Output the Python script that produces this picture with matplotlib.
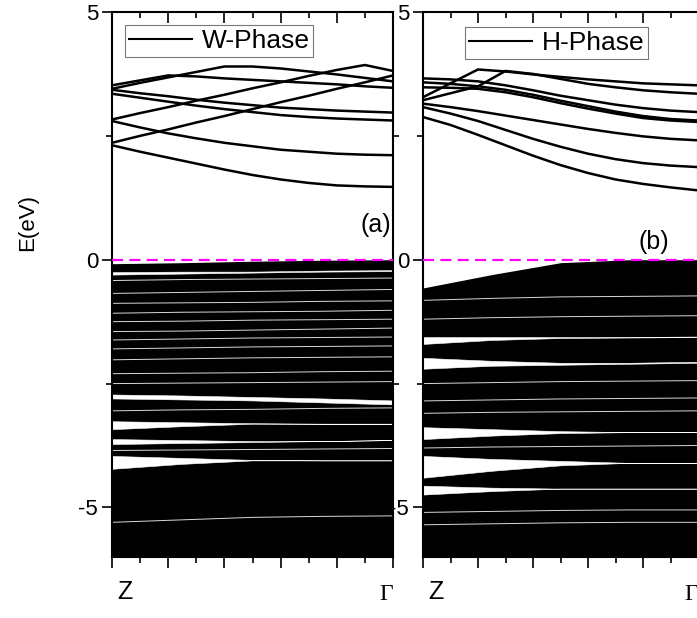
import matplotlib.pyplot as plt
from matplotlib.lines import Line2D
from matplotlib.ticker import MultipleLocator

plt.rcParams['font.family'] = ['Liberation Sans', 'DejaVu Sans']

# k-path fraction from Z (0) to Gamma (1)
k_cb = [0.0, 0.1, 0.2, 0.3, 0.4, 0.5, 0.6, 0.7, 0.8, 0.9, 1.0]
k_vb = [0.0, 0.25, 0.5, 0.75, 1.0]

# W-phase conduction bands (eV)
w_cb = [
    [2.31, 2.18, 2.06, 1.94, 1.82, 1.71, 1.62, 1.55, 1.50, 1.48, 1.47],
    [2.80, 2.67, 2.55, 2.45, 2.36, 2.29, 2.22, 2.18, 2.14, 2.12, 2.11],
    [2.36, 2.50, 2.63, 2.77, 2.90, 3.04, 3.18, 3.31, 3.45, 3.58, 3.72],
    [2.83, 2.96, 3.08, 3.21, 3.33, 3.46, 3.58, 3.71, 3.83, 3.93, 3.81],
    [3.52, 3.62, 3.72, 3.70, 3.66, 3.63, 3.60, 3.57, 3.54, 3.50, 3.47],
    [3.45, 3.57, 3.68, 3.79, 3.90, 3.90, 3.86, 3.80, 3.74, 3.67, 3.60],
    [3.43, 3.36, 3.30, 3.23, 3.17, 3.12, 3.07, 3.04, 3.01, 2.99, 2.97],
    [3.35, 3.27, 3.19, 3.11, 3.04, 2.98, 2.92, 2.88, 2.85, 2.83, 2.81],
]

# H-phase conduction bands (eV)
h_cb = [
    [2.88, 2.72, 2.52, 2.31, 2.10, 1.91, 1.75, 1.62, 1.53, 1.46, 1.40],
    [3.08, 2.95, 2.80, 2.62, 2.44, 2.28, 2.14, 2.03, 1.95, 1.90, 1.87],
    [3.15, 3.08, 3.00, 2.91, 2.82, 2.73, 2.64, 2.56, 2.49, 2.44, 2.41],
    [3.58, 3.55, 3.50, 3.43, 3.33, 3.21, 3.10, 2.99, 2.90, 2.84, 2.81],
    [3.48, 3.47, 3.45, 3.38, 3.28, 3.16, 3.05, 2.95, 2.86, 2.81, 2.78],
    [3.66, 3.64, 3.60, 3.52, 3.42, 3.31, 3.22, 3.13, 3.06, 3.01, 2.98],
    [3.28, 3.56, 3.84, 3.80, 3.74, 3.69, 3.64, 3.60, 3.56, 3.54, 3.52],
    [3.22, 3.36, 3.50, 3.81, 3.75, 3.65, 3.55, 3.48, 3.42, 3.38, 3.35],
]

# valence manifold: top edge, white gaps (lower, upper), thin white streaks
w_vb_top = [-0.08, -0.06, -0.03, -0.01, 0.0]
w_vb_gaps = [
    ([-2.80, -2.82, -2.84, -2.88, -2.92], [-2.72, -2.74, -2.77, -2.80, -2.84]),
    ([-3.42, -3.36, -3.31, -3.31, -3.31], [-3.26, -3.28, -3.30, -3.31, -3.31]),
    ([-3.72, -3.70, -3.68, -3.66, -3.64], [-3.62, -3.64, -3.66, -3.66, -3.64]),
    ([-4.22, -4.12, -4.05, -4.05, -4.05], [-3.96, -4.00, -4.04, -4.05, -4.05]),
    ([-0.30, -0.28, -0.26, -0.24, -0.23], [-0.25, -0.24, -0.24, -0.22, -0.21]),
]
w_vb_lines = [
    [-0.42, -0.40, -0.39, -0.38, -0.37],
    [-0.68, -0.66, -0.64, -0.62, -0.60],
    [-0.88, -0.87, -0.86, -0.84, -0.83],
    [-1.08, -1.06, -1.05, -1.04, -1.02],
    [-1.25, -1.24, -1.22, -1.21, -1.20],
    [-1.45, -1.44, -1.42, -1.40, -1.38],
    [-1.62, -1.60, -1.58, -1.57, -1.56],
    [-1.80, -1.78, -1.76, -1.75, -1.74],
    [-2.02, -2.00, -1.98, -1.97, -1.96],
    [-2.30, -2.29, -2.28, -2.26, -2.25],
    [-2.50, -2.49, -2.48, -2.47, -2.46],
    [-3.05, -3.03, -3.02, -3.00, -2.99],
    [-3.85, -3.84, -3.83, -3.82, -3.81],
    [-5.30, -5.25, -5.20, -5.18, -5.17],
]

h_vb_top = [-0.57, -0.30, -0.06, 0.0, 0.0]
h_vb_gaps = [
    ([-1.70, -1.62, -1.58, -1.57, -1.56], [-1.56, -1.56, -1.56, -1.56, -1.55]),
    ([-2.20, -2.14, -2.12, -2.10, -2.08], [-1.98, -2.04, -2.08, -2.08, -2.06]),
    ([-3.62, -3.55, -3.50, -3.48, -3.48], [-3.38, -3.42, -3.46, -3.48, -3.48]),
    ([-4.40, -4.26, -4.15, -4.10, -4.10], [-3.96, -4.02, -4.06, -4.10, -4.10]),
    ([-4.74, -4.67, -4.62, -4.62, -4.62], [-4.56, -4.60, -4.62, -4.62, -4.62]),
]
h_vb_lines = [
    [-0.82, -0.78, -0.75, -0.74, -0.73],
    [-1.20, -1.17, -1.15, -1.14, -1.13],
    [-2.50, -2.48, -2.46, -2.45, -2.44],
    [-2.85, -2.83, -2.81, -2.80, -2.79],
    [-3.10, -3.08, -3.07, -3.06, -3.05],
    [-3.80, -3.78, -3.77, -3.76, -3.75],
    [-5.10, -5.08, -5.06, -5.05, -5.05],
    [-5.35, -5.33, -5.31, -5.30, -5.30],
]

panels = [
    ("W-Phase", "(a)", w_cb, w_vb_top, w_vb_gaps, w_vb_lines),
    ("H-Phase", "(b)", h_cb, h_vb_top, h_vb_gaps, h_vb_lines),
]

fig = plt.figure(figsize=(6.97, 6.18), dpi=100)
ax_a = fig.add_axes([112 / 697, 61 / 618, 281 / 697, 545 / 618])
ax_b = fig.add_axes([423 / 697, 61 / 618, 275 / 697, 545 / 618])
legend_pos = [(0.046, 0.976), (0.153, 0.972)]
tag_pos = [(0.94, 0.71), (0.84, 0.35)]

for i, (ax, (name, tag, cb, vb_top, vb_gaps, vb_lines)) in enumerate(zip([ax_a, ax_b], panels)):
    for band in cb:
        ax.plot(k_cb, band, color="black", lw=1.8)

    ax.fill_between(k_vb, vb_top, -6.0, color="black", lw=0)
    for lo, hi in vb_gaps:
        ax.fill_between(k_vb, lo, hi, color="white", lw=0.4, edgecolor="white")
    for line in vb_lines:
        ax.plot(k_vb, line, color="white", lw=0.7, alpha=0.85)

    ax.axhline(0, color="#ff00ff", lw=1.6, ls=(0, (5, 2.8)), zorder=5)

    ax.set_xlim(0, 1)
    ax.set_ylim(-6, 5)
    ax.xaxis.set_major_locator(MultipleLocator(0.2))
    ax.xaxis.set_minor_locator(MultipleLocator(0.1))
    ax.yaxis.set_major_locator(MultipleLocator(5))
    ax.yaxis.set_minor_locator(MultipleLocator(2.5))
    ax.set_xticklabels([])
    ax.tick_params(axis="x", which="both", top=True, bottom=True, direction="out", width=1.2)
    ax.tick_params(axis="x", which="major", length=8)
    ax.tick_params(axis="x", which="minor", length=4)
    ax.tick_params(axis="y", which="both", left=True, right=True, direction="out",
                   width=1.2, labelsize=16, pad=3)
    ax.tick_params(axis="y", which="major", length=7, right=False)
    ax.tick_params(axis="y", which="minor", length=4)
    for sp in ax.spines.values():
        sp.set_linewidth(1.5)
    ax.set_yticks([5, 0, -5])
    ax.set_yticklabels(["5", "0", "-5"])

    ax.text(0.02, -0.065, "Z", transform=ax.transAxes, fontsize=18, ha="left", va="center")
    ax.text(1.0, -0.068, "Γ", transform=ax.transAxes, fontsize=17, ha="right", va="center",
            family=["Liberation Serif", "DejaVu Serif"])
    ax.text(tag_pos[i][0], tag_pos[i][1], tag, fontsize=18, ha="center", va="center")

    handle = Line2D([], [], color="black", lw=1.5)
    leg = ax.legend([handle], [name], loc="upper left", bbox_to_anchor=legend_pos[i],
                    fontsize=19, frameon=True, fancybox=False, handlelength=2.4,
                    handletextpad=0.35, borderpad=0.15, borderaxespad=0)
    leg.get_frame().set_edgecolor("#555555")
    leg.get_frame().set_linewidth(0.8)

# top ticks point inward
for ax in [ax_a, ax_b]:
    for t in ax.xaxis.get_major_ticks() + ax.xaxis.get_minor_ticks():
        t.tick2line.set_marker(3)

fig.text(28 / 697, 1 - 222 / 618, "E(eV)", rotation=90, fontsize=16, ha="center", va="center")

fig.savefig("out.png", dpi=100)
